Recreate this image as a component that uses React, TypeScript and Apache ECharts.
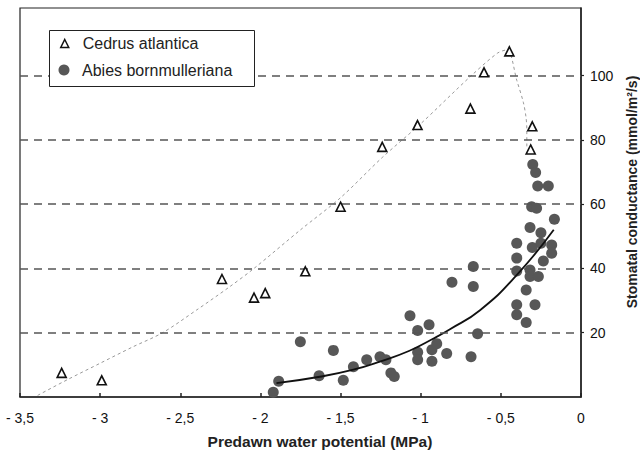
import React, { useEffect, useRef } from "react";
import * as echarts from "echarts";

const FONT = "'Liberation Sans', Arial, Helvetica, sans-serif";

const xTickStep = 0.5;
const xMin = -3.5;
const xMax = 0;
const yMin = 0;
const yMax = 121;
const yTicks = [20, 40, 60, 80, 100];

const cedrusName = "Cedrus atlantica";
const abiesName = "Abies bornmulleriana";

const cedrusX = [-3.24, -2.99, -2.24, -2.04, -1.97, -1.72, -1.5, -1.24, -1.02, -0.69, -0.605, -0.447, -0.304, -0.314];
const cedrusY = [7.5, 5.2, 36.7, 30.9, 32.3, 39.1, 59.2, 77.8, 84.6, 89.7, 101, 107.5, 84.2, 77];

const abiesX = [
  -1.92, -1.886, -1.751, -1.634, -1.545, -1.483, -1.42, -1.337, -1.254, -1.217, -1.186, -1.165,
  -1.067, -1.019, -0.948, -1.019, -1.019, -0.93, -0.9, -0.93, -0.838, -0.686, -0.645, -0.805,
  -0.672, -0.672,
  -0.301, -0.283, -0.27, -0.204, -0.308, -0.277, -0.166, -0.318, -0.25, -0.401, -0.304, -0.25,
  -0.183, -0.183, -0.235, -0.401, -0.401, -0.318, -0.318, -0.266, -0.342, -0.401, -0.287, -0.401,
  -0.342,
];
const abiesY = [
  1.5, 4.9, 17.2, 6.6, 14.5, 5.2, 9.4, 11.6, 12.5, 11.6, 7.5, 6.4,
  25.3, 20.7, 22.5, 13.9, 11.6, 14.7, 16.6, 11.1, 13.5, 12.5, 19.7, 35.7,
  40.6, 34.4,
  72.3, 69.8, 65.6, 65.6, 59.2, 58.7, 55.3, 52.7, 51.1, 47.8, 46.5, 47.8,
  47.3, 44.7, 42.3, 43.2, 39.2, 39.5, 37.5, 37.5, 33.3, 28.7, 28.7, 25.6,
  23.2,
];

// Trend line (solid black curve)
const trendX = [-1.9, -1.63, -1.42, -1.25, -1.07, -0.92, -0.82, -0.63, -0.4, -0.17];
const trendY = [4.3, 6.3, 8.5, 11.1, 14.4, 18.2, 21, 27, 38, 52];

// Envelope curve (grey dashed)
const envX = [-3.39, -3.2, -3.0, -2.8, -2.61, -2.4, -2.2, -2.04, -1.75, -1.5, -1.24, -1.0, -0.69, -0.52, -0.46, -0.4, -0.36, -0.343, -0.338, -0.338];
const envY = [0.5, 5.5, 10.5, 15.5, 20, 27, 34, 40, 52, 62, 74.5, 85, 99.7, 107, 108, 98.4, 91.7, 87, 83, 77.5];

const xTitle = "Predawn water potential (MPa)";
const yTitle = "Stomatal conductance (mmol/m²/s)";

function zip(xs: number[], ys: number[]) {
  return xs.map((x, i) => [x, ys[i]]);
}

function fmtX(v: number) {
  if (v === 0) return "0";
  return "- " + String(Math.abs(v)).replace(".", ",");
}

export default function App() {
  const ref = useRef<HTMLDivElement>(null);
  useEffect(() => {
    if (!ref.current) return;
    const chart = echarts.init(ref.current, undefined, { renderer: "svg" });
    const legendText = { fontFamily: FONT, fontSize: 16, color: "#222", padding: [0, 0, 0, 9] };
    chart.setOption({
      animation: false,
      backgroundColor: "#ffffff",
      textStyle: { fontFamily: FONT },
      grid: {
        left: 20,
        right: 59,
        top: 8,
        bottom: 55,
        show: true,
        borderColor: "#222",
        borderWidth: 1.2,
        backgroundColor: "transparent",
      },
      legend: [
        {
          orient: "vertical",
          left: 60,
          top: 35.5,
          z: 10,
          padding: 0,
          itemWidth: 8,
          itemHeight: 8,
          textStyle: legendText,
          data: [
            { name: cedrusName, icon: "triangle", itemStyle: { color: "#fff", borderColor: "#111", borderWidth: 1.5 } },
          ],
        },
        {
          orient: "vertical",
          left: 58.5,
          top: 62,
          z: 10,
          padding: 0,
          itemWidth: 11,
          itemHeight: 11,
          textStyle: { ...legendText, padding: [0, 0, 0, 7.5] },
          data: [{ name: abiesName, icon: "circle", itemStyle: { color: "#575757" } }],
        },
      ],
      xAxis: {
        type: "value",
        min: xMin,
        max: xMax,
        interval: xTickStep,
        axisLine: { show: true, lineStyle: { color: "#222", width: 1.5 } },
        axisTick: { show: true, inside: true, length: 4, lineStyle: { color: "#222", width: 1.5 } },
        axisLabel: { formatter: fmtX, color: "#111", fontSize: 14, fontFamily: FONT, margin: 14 },
        splitLine: { show: false },
      },
      yAxis: {
        type: "value",
        position: "right",
        min: yMin,
        max: yMax,
        axisLine: { show: true, lineStyle: { color: "#222", width: 1.5 } },
        axisTick: { show: true, inside: false, length: 3, customValues: yTicks, lineStyle: { color: "#222", width: 1.2 } },
        axisLabel: { customValues: yTicks, color: "#111", fontSize: 14, fontFamily: FONT, margin: 9 },
        splitLine: { show: false },
      },
      series: [
        {
          name: "grid",
          type: "line",
          data: [],
          z: 1,
          silent: true,
          markLine: {
            silent: true,
            symbol: "none",
            label: { show: false },
            lineStyle: { type: [8, 6], color: "#555", width: 1.6 },
            data: yTicks.map((v) => ({ yAxis: v })),
          },
        },
        {
          name: "envelope",
          type: "line",
          data: zip(envX, envY),
          smooth: 0.3,
          showSymbol: false,
          symbol: "none",
          z: 2,
          lineStyle: { color: "#999", width: 1, type: [3, 3] },
        },
        {
          name: "trend",
          type: "line",
          data: zip(trendX, trendY),
          smooth: true,
          showSymbol: false,
          symbol: "none",
          z: 4,
          lineStyle: { color: "#111", width: 1.8 },
        },
        {
          name: abiesName,
          type: "scatter",
          data: zip(abiesX, abiesY),
          symbol: "circle",
          symbolSize: 11,
          z: 3,
          itemStyle: { color: "#575757", opacity: 1 },
        },
        {
          name: cedrusName,
          type: "scatter",
          data: zip(cedrusX, cedrusY),
          symbol: "triangle",
          symbolSize: 9,
          z: 5,
          itemStyle: { color: "#ffffff", borderColor: "#111", borderWidth: 1.6, opacity: 1 },
        },
      ],
      graphic: [
        {
          type: "rect",
          z: 8,
          shape: { x: 49.5, y: 30.5, width: 205, height: 56 },
          style: { fill: "#ffffff", stroke: "#222", lineWidth: 1 },
        },
        {
          type: "text",
          x: 320,
          y: 441,
          style: {
            text: xTitle,
            font: `bold 15.5px ${FONT}`,
            fill: "#222",
            textAlign: "center",
            textVerticalAlign: "middle",
          },
        },
        {
          type: "text",
          x: 632,
          y: 192,
          rotation: Math.PI / 2,
          style: {
            text: yTitle,
            font: `bold 14px ${FONT}`,
            fill: "#222",
            textAlign: "center",
            textVerticalAlign: "middle",
          },
        },
      ],
    });
    return () => chart.dispose();
  }, []);
  return (
    <div
      ref={ref}
      style={{ position: "fixed", left: 0, top: 0, width: 640, height: 452, background: "#fff" }}
    />
  );
}
